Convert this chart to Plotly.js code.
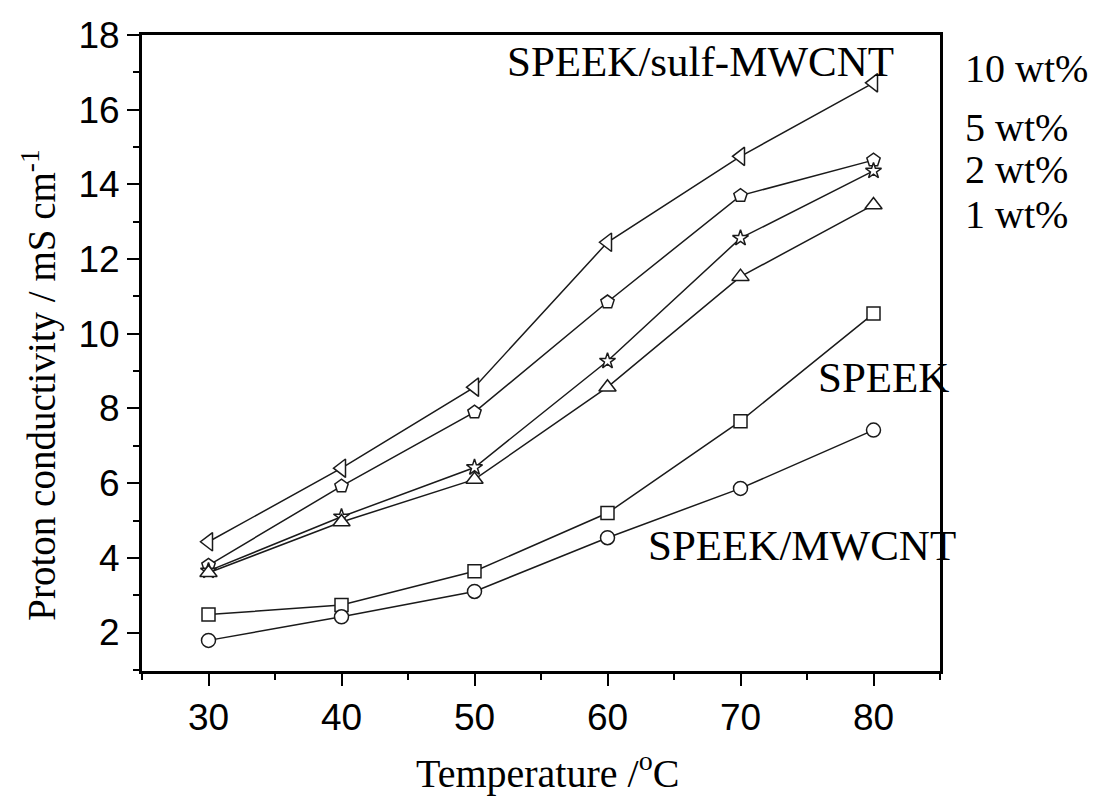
<!DOCTYPE html>
<html>
<head>
<meta charset="utf-8">
<script src="https://cdn.plot.ly/plotly-3.0.1.min.js"></script>
<style>
  html, body { margin: 0; padding: 0; background: #fff; }
  #chart { width: 1099px; height: 801px; }
</style>
</head>
<body>
<div id="chart"></div>
<script>
// Temperatures (°C)
const temperature = [30, 40, 50, 60, 70, 80];

// Proton conductivity (mS cm^-1)
const sulf10 = [4.43, 6.40, 8.57, 12.45, 14.75, 16.72];
const sulf5  = [3.80, 5.92, 7.90, 10.85, 13.70, 14.65];
const sulf2  = [3.65, 5.10, 6.42, 9.27, 12.56, 14.36];
const sulf1  = [3.60, 4.96, 6.10, 8.57, 11.53, 13.45];
const speekMwcnt = [2.48, 2.74, 3.64, 5.20, 7.66, 10.54];
const speek      = [1.79, 2.42, 3.10, 4.54, 5.86, 7.42];

const seriesNames = ['10 wt%', '5 wt%', '2 wt%', '1 wt%', 'SPEEK/MWCNT', 'SPEEK'];
const seriesData = [sulf10, sulf5, sulf2, sulf1, speekMwcnt, speek];
const symbols = ['triangle-left', 'pentagon', 'star', 'triangle-up', 'square', 'circle'];
const sizes = [16, 14, 12, 15, 13, 14];

const traces = seriesData.map((vals, i) => ({
  x: temperature,
  y: vals,
  name: seriesNames[i],
  type: 'scatter',
  mode: 'lines+markers',
  line: { color: '#1a1a1a', width: 1.5 },
  marker: {
    symbol: symbols[i],
    size: sizes[i],
    color: '#ffffff',
    line: { color: '#1a1a1a', width: 1.5 }
  },
  cliponaxis: false
}));

const serif = 'Liberation Serif, Times New Roman, serif';
const sans = 'Liberation Sans, Arial, sans-serif';

const axisCommon = {
  showline: true,
  linecolor: '#000',
  linewidth: 3,
  mirror: true,
  ticks: 'outside',
  tickcolor: '#000',
  tickwidth: 2,
  ticklen: 12,
  showgrid: false,
  zeroline: false,
  tickfont: { family: sans, size: 37, color: '#000' }
};

const labels = [
  { text: 'SPEEK/sulf-MWCNT', x: 0.455, y: 0.958, size: 43 },
  { text: '10 wt%', x: 1.029, y: 0.948, size: 40 },
  { text: '5 wt%', x: 1.029, y: 0.854, size: 40 },
  { text: '2 wt%', x: 1.029, y: 0.788, size: 40 },
  { text: '1 wt%', x: 1.029, y: 0.717, size: 40 },
  { text: 'SPEEK', x: 0.845, y: 0.461, size: 43 },
  { text: 'SPEEK/MWCNT', x: 0.632, y: 0.198, size: 43 }
];

const annotations = labels.map(a => ({
  text: a.text, x: a.x, y: a.y,
  xref: 'paper', yref: 'paper', xanchor: 'left', yanchor: 'middle', showarrow: false,
  font: { family: serif, size: a.size, color: '#000' }
}));

// Axis titles
annotations.push({
  text: 'Temperature /<sup>o</sup>C',
  x: 0.508, y: -0.156, xref: 'paper', yref: 'paper',
  xanchor: 'center', yanchor: 'middle', showarrow: false,
  font: { family: serif, size: 40, color: '#000' }
});
annotations.push({
  text: 'Proton conductivity / mS cm<sup>-1</sup>',
  x: -0.128, y: 0.45, xref: 'paper', yref: 'paper', textangle: -90,
  xanchor: 'center', yanchor: 'middle', showarrow: false,
  font: { family: serif, size: 39, color: '#000' }
});

const layout = {
  width: 1099,
  height: 801,
  paper_bgcolor: '#fff',
  plot_bgcolor: '#fff',
  showlegend: false,
  margin: { l: 142, r: 159, t: 35, b: 130 },
  xaxis: Object.assign({}, axisCommon, {
    range: [25, 85],
    tick0: 30,
    dtick: 10,
    minor: { ticks: 'outside', dtick: 5, tick0: 25, ticklen: 6, tickwidth: 2, tickcolor: '#000' }
  }),
  yaxis: Object.assign({}, axisCommon, {
    range: [0.97, 18],
    tick0: 0,
    dtick: 2,
    minor: { ticks: 'outside', dtick: 1, ticklen: 6, tickwidth: 2, tickcolor: '#000' }
  }),
  annotations: annotations
};

Plotly.newPlot('chart', traces, layout, { displayModeBar: false, staticPlot: true });
</script>
</body>
</html>
